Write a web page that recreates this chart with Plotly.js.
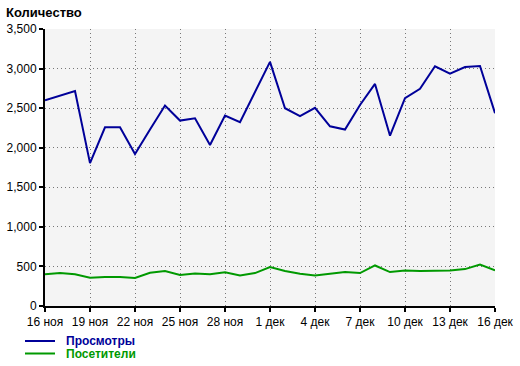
<!DOCTYPE html>
<html><head><meta charset="utf-8">
<script src="https://cdn.plot.ly/plotly-3.0.1.min.js"></script>
<style>body{margin:0;background:#fff}#c{width:520px;height:366px}</style>
</head><body><div id="c"></div>
<script>
const days = ["16 ноя","17 ноя","18 ноя","19 ноя","20 ноя","21 ноя","22 ноя","23 ноя","24 ноя","25 ноя","26 ноя","27 ноя","28 ноя","29 ноя","30 ноя",
  "1 дек","2 дек","3 дек","4 дек","5 дек","6 дек","7 дек","8 дек","9 дек","10 дек","11 дек","12 дек","13 дек","14 дек","15 дек","16 дек"];
const views = [2600,2660,2715,1805,2258,2258,1920,2230,2533,2343,2372,2034,2406,2322,2700,
  3084,2499,2398,2504,2271,2229,2540,2806,2152,2627,2745,3029,2936,3020,3033,2437];
const visitors = [400,416,400,358,367,367,354,420,442,392,412,400,425,387,416,
  492,442,408,387,408,429,416,512,429,450,442,442,450,466,525,450];
const tickLabels = ["16 ноя","19 ноя","22 ноя","25 ноя","28 ноя","1 дек","4 дек","7 дек","10 дек","13 дек","16 дек"];
const yTicks = [0,500,1000,1500,2000,2500,3000,3500];
const seriesNames = ["Просмотры","Посетители"];
const colors = ["#000099","#009900"];

const traces = [views, visitors].map((v,i)=>({
  x: days, y: v, type:'scatter', mode:'lines',
  name: seriesNames[i],
  line:{color:colors[i], width:2}
}));

const axisCommon = {
  showgrid:true, gridcolor:'#777', griddash:'1px,3px', gridwidth:1,
  showline:true, linecolor:'#000', linewidth:2, ticks:'outside', ticklen:4, tickcolor:'#000', tickwidth:2,
  zeroline:false, fixedrange:true, automargin:false, tickangle:0
};

// plot area geometry (px) used only to place the hand-drawn legend
const PL = 45, PW = 450, PB = 306, PH = 277;
const px2x = p => (p - PL) / PW, px2y = p => (PB - p) / PH;
const legendRows = [341, 353.5];

const shapes = seriesNames.map((n,i)=>({
  type:'line', xref:'paper', yref:'paper',
  x0:px2x(25), x1:px2x(55), y0:px2y(legendRows[i]), y1:px2y(legendRows[i]),
  line:{color:colors[i], width:2}
}));
const annotations = seriesNames.map((n,i)=>({
  text:'<b>'+n+'</b>', xref:'paper', yref:'paper', x:px2x(64), y:px2y(legendRows[i]),
  xanchor:'left', yanchor:'middle', showarrow:false, font:{size:12, color:colors[i]}
}));
annotations.push({text:'<b>Количество</b>', xref:'paper', yref:'paper', x:px2x(4), y:px2y(12),
  xanchor:'left', yanchor:'middle', showarrow:false, font:{size:13}});

const layout = {
  width:520, height:366,
  margin:{l:45, r:25, t:29, b:60, autoexpand:false},
  paper_bgcolor:'#fff', plot_bgcolor:'#f4f4f4',
  font:{family:'Liberation Sans, Arial, sans-serif', size:12, color:'#000'},
  showlegend:false,
  xaxis:Object.assign({type:'category', range:[0,30], tickmode:'array', tickvals:tickLabels, ticktext:tickLabels}, axisCommon),
  yaxis:Object.assign({range:[0,3500], tickmode:'array', tickvals:yTicks, tickformat:','}, axisCommon),
  shapes: shapes,
  annotations: annotations
};
Plotly.newPlot('c', traces, layout, {displayModeBar:false, staticPlot:true});
</script></body></html>
